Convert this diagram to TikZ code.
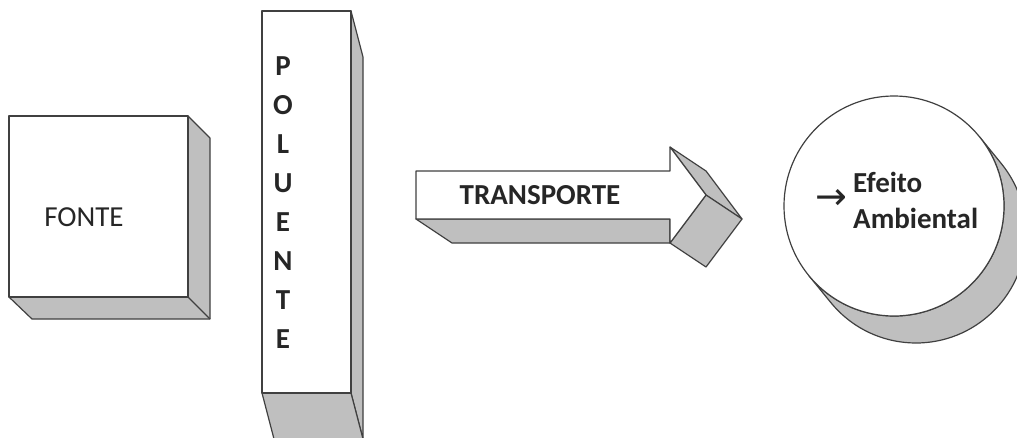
\documentclass[tikz,border=0pt]{standalone}
\usepackage{fontspec}
\setmainfont{Carlito}
\newfontfamily\symbolfont{DejaVu Sans}
\usetikzlibrary{calc}
\definecolor{edgegray}{HTML}{404040}
\definecolor{shadegray}{HTML}{BFBFBF}
\definecolor{inkgray}{HTML}{262626}

\begin{document}
\begin{tikzpicture}[
		x=1pt, y=1pt, yscale=-1,
		frontface/.style={draw=edgegray, line width=1.2pt, line join=round, fill=white},
		shadeface/.style={frontface, fill=shadegray},
		plaintext/.style={text=inkgray, inner sep=0pt, font=\fontsize{29}{36}\selectfont},
		boldtext/.style={plaintext, font=\fontsize{29}{36}\selectfont\bfseries}
	]
	\useasboundingbox (0,0) rectangle (1017,437);
	\clip (0,0) rectangle (1017,437);

	% caixa da fonte
	\draw[shadeface] (188,116) -- (210,138) -- (210,319) -- (32,319) -- (9,297) -- (188,297) -- cycle;
	\draw[frontface] (188,297) -- (210,319);
	\draw[frontface] (9,116) rectangle (188,297);
	\node[plaintext] (fonte) at (84,217) {FONTE};

	% coluna do poluente
	\draw[shadeface] (351,11) -- (363,57) -- (363,439) -- (351,393) -- cycle;
	\draw[shadeface] (262,393) -- (351,393) -- (363,439) -- (274,439) -- cycle;
	\draw[frontface] (262,11) rectangle (351,393);
	\foreach \ch [count=\i] in {P,O,L,U,E,N,T,E}
		\node[boldtext] (pol\i) at (283,27+39*\i) {\ch};

	% seta do transporte
	\draw[shadeface] (670,147) -- (706,171) -- (742,219) -- (706,195) -- cycle;
	\draw[shadeface] (416,219) -- (452,243) -- (670,243) -- (670,219) -- cycle;
	\draw[shadeface] (670,243) -- (706,195) -- (742,219) -- (706,267) -- cycle;
	\draw[frontface] (416,171) -- (670,171) -- (670,147) -- (706,195)
		-- (670,243) -- (670,219) -- (416,219) -- cycle;
	\node[boldtext] (transporte) at (540,195) {TRANSPORTE};

	% efeito ambiental
	\coordinate (effc) at (894,206);
	\draw[shadeface] ($(effc)+(140.8:110)$) -- ++(22,27)
		arc[start angle=140.8, end angle=-39.2, radius=110] -- ++(-22,-27)
		arc[start angle=-39.2, end angle=140.8, radius=110] -- cycle;
	\node[frontface, circle, inner sep=0pt, minimum size=220pt] (efeito) at (effc) {};
	\node[plaintext, font=\symbolfont\fontsize{38}{44}\selectfont] (seta) at (831,199) {→};
	\node[boldtext, align=left, anchor=west] (efeitotxt) at (853,200) {Efeito\\Ambiental};
\end{tikzpicture}
\end{document}
